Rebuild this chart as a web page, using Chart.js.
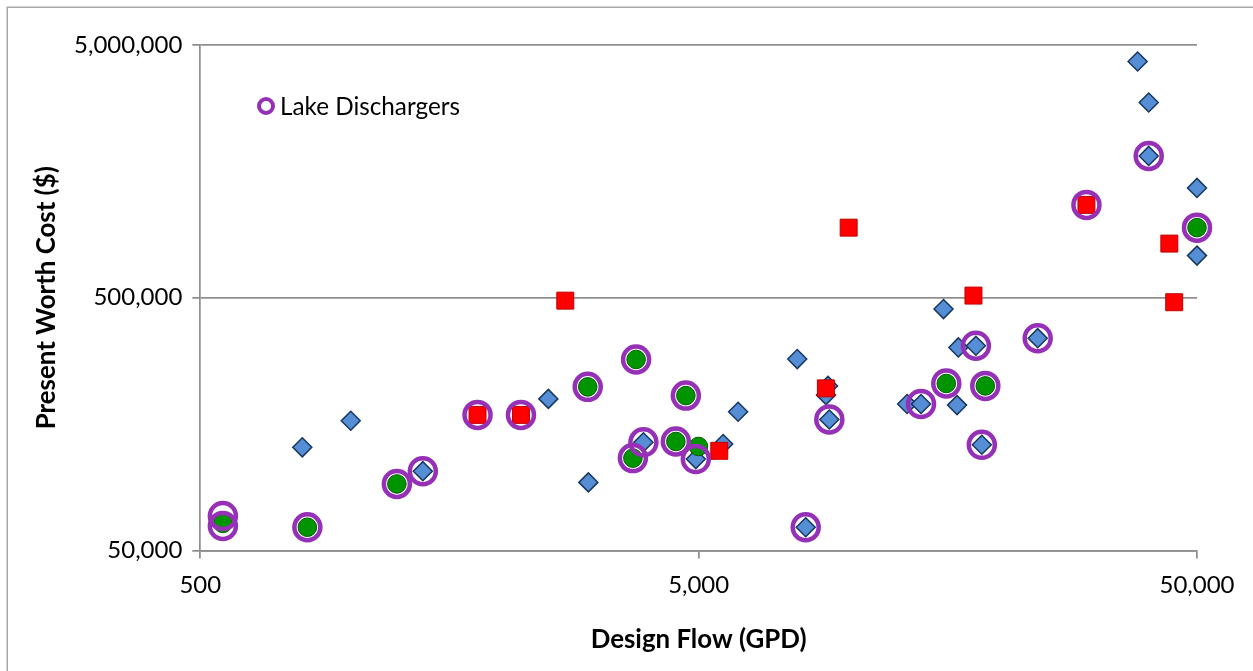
<!DOCTYPE html>
<html><head><meta charset="utf-8">
<script src="https://cdn.jsdelivr.net/npm/chart.js@4.4.0/dist/chart.umd.min.js"></script>
<style>html,body{margin:0;padding:0;background:#fff;overflow:hidden}canvas{display:block}</style>
</head><body>
<canvas id="c" width="1253" height="671" style="width:1253px;height:671px"></canvas>
<script>
// ---- data ----
const xTicks = [500, 5000, 50000];
const yTicks = [50000, 500000, 5000000];

const blueX = [801, 1002, 1398, 2497, 3004, 3874, 4935, 5600, 6000, 7885, 9090, 9006, 9145, 8200, 15500, 16600, 18000, 23950, 13100, 13970, 16500, 18500, 38000, 40000, 40000, 50000, 50000];
const blueY = [128000, 163000, 103000, 199000, 93000, 134000, 115000, 132000, 177000, 286000, 224000, 206000, 165000, 61800, 451000, 318000, 323000, 346000, 190000, 190000, 188000, 131000, 4300000, 2960000, 1820000, 1360000, 734000];

const redX = [1800, 2200, 2700, 5500, 9000, 10000, 17800, 30000, 44000, 45000];
const redY = [172000, 172000, 487000, 124000, 219000, 947000, 510000, 1165000, 819000, 480000];

const greenX = [555, 820, 1240, 2995, 3745, 3690, 4500, 4713, 4995, 15700, 18800, 50000];
const greenY = [64000, 61800, 91700, 222000, 285000, 116000, 135000, 205000, 129000, 229000, 224000, 947000];

const lakeX = [555, 555, 820, 1240, 1398, 1800, 2200, 2995, 3745, 3690, 3874, 4500, 4713, 4935, 8200, 9145, 13970, 15700, 18000, 18800, 18500, 23950, 30000, 40000, 50000];
const lakeY = [68500, 62500, 61800, 91700, 103000, 172000, 172000, 222000, 285000, 116000, 134000, 135000, 205000, 115000, 61800, 165000, 190000, 229000, 323000, 224000, 131000, 346000, 1165000, 1820000, 947000];

const xTitle = 'Design Flow (GPD)';
const yTitle = 'Present Worth Cost ($)';
const lakeLabel = 'Lake Dischargers';

// ---- helpers ----
const FAM = 'Lato';
function fitSize(text, weight, target) {
  const c = document.createElement('canvas').getContext('2d');
  c.font = weight + ' 100px ' + FAM;
  return +(100 * target / c.measureText(text).width).toFixed(2);
}
const tickSize = fitSize('50,000', 'normal', 75);
const titleSize = fitSize(xTitle, 'bold', 216);
const legendSize = fitSize(lakeLabel, 'normal', 180);

const pts = (xs, ys) => xs.map((x, i) => ({x, y: ys[i]}));
const fmt = v => Number(v).toLocaleString('en-US');
const GRID = '#8f8f8f';
const PURPLE = '#9630B6';

const frame = {
  id: 'frame',
  beforeDraw(chart) {
    const ctx = chart.ctx;
    ctx.save();
    ctx.fillStyle = '#fff';
    ctx.fillRect(0, 0, chart.width, chart.height);
    ctx.strokeStyle = '#a8a8a8';
    ctx.lineWidth = 1.5;
    ctx.strokeRect(7.25, 7.25, 1400, 800);
    ctx.restore();
  },
  afterDraw(chart) {
    const ctx = chart.ctx;
    ctx.save();
    ctx.beginPath();
    ctx.arc(266, 106, 7, 0, Math.PI * 2);
    ctx.strokeStyle = PURPLE;
    ctx.lineWidth = 4;
    ctx.stroke();
    ctx.fillStyle = '#000';
    ctx.font = 'normal ' + legendSize + 'px ' + FAM;
    ctx.textBaseline = 'middle';
    ctx.textAlign = 'left';
    ctx.fillText(lakeLabel, 280, 107);
    ctx.restore();
  }
};

new Chart(document.getElementById('c'), {
  type: 'scatter',
  data: {
    datasets: [
      { label: lakeLabel, data: pts(lakeX, lakeY), order: 0, clip: false,
        pointStyle: 'circle', pointRadius: 13, pointHoverRadius: 13,
        pointBackgroundColor: 'rgba(0,0,0,0)', pointBorderColor: PURPLE, pointBorderWidth: 4.5, pointHoverBorderWidth: 4.5 },
      { label: 'Group R', data: pts(redX, redY), order: 1, clip: false,
        pointStyle: 'rect', pointRadius: 12, pointHoverRadius: 12,
        pointBackgroundColor: '#FF0000', pointBorderColor: '#C00000', pointBorderWidth: 1 },
      { label: 'Group G', data: pts(greenX, greenY), order: 2, clip: false,
        pointStyle: 'circle', pointRadius: 9.3, pointHoverRadius: 9.3,
        pointBackgroundColor: '#009400', pointBorderColor: '#006000', pointBorderWidth: 1 },
      { label: 'Group B', data: pts(blueX, blueY), order: 3, clip: false,
        pointStyle: 'rectRot', pointRadius: 9.5, pointHoverRadius: 9.5,
        pointBackgroundColor: '#558ED5', pointBorderColor: '#17375E', pointBorderWidth: 1.5 }
    ]
  },
  options: {
    responsive: false,
    animation: false,
    devicePixelRatio: 1,
    layout: { padding: { left: 0, top: 45, right: 56, bottom: 0 } },
    plugins: { legend: { display: false }, tooltip: { enabled: false } },
    scales: {
      x: {
        type: 'logarithmic', position: 'bottom', min: 500, max: 50000,
        afterBuildTicks: s => { s.ticks = xTicks.map(v => ({value: v})); },
        afterFit: s => { s.height = 120.5; },
        ticks: { callback: fmt, color: '#000', padding: 12, maxRotation: 0, autoSkip: false,
                 font: { family: FAM, size: tickSize } },
        grid: { drawOnChartArea: false, drawTicks: true, tickLength: 8, color: GRID, lineWidth: 1.75 },
        border: { display: true, color: GRID, width: 1.75 },
        title: { display: true, text: xTitle, color: '#000', padding: { top: 0, bottom: 16 },
                 font: { family: FAM, size: titleSize, weight: 'bold' } }
      },
      y: {
        type: 'logarithmic', position: 'left', min: 50000, max: 5000000,
        afterBuildTicks: s => { s.ticks = yTicks.map(v => ({value: v})); },
        afterFit: s => { s.width = 200.3; },
        ticks: { callback: fmt, color: '#000', padding: 10, autoSkip: false,
                 font: { family: FAM, size: tickSize } },
        grid: { drawOnChartArea: true, drawTicks: true, tickLength: 8, color: GRID, lineWidth: 1.75 },
        border: { display: true, color: GRID, width: 1.75 },
        title: { display: true, text: yTitle, color: '#000', padding: { top: 31, bottom: 0 },
                 font: { family: FAM, size: titleSize, weight: 'bold' } }
      }
    }
  },
  plugins: [frame]
});
</script>
</body></html>
